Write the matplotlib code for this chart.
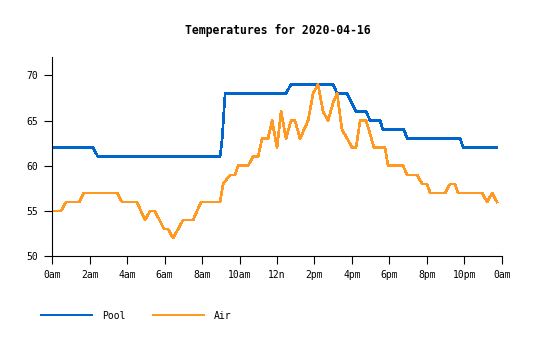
import matplotlib
matplotlib.use("Agg")
import matplotlib.pyplot as plt
from matplotlib.lines import Line2D

# hours after midnight and temperature (F)
pool_h = [0, 2.17, 2.44, 8.96, 9.07, 9.23, 12.48, 12.75, 15.0, 15.21, 15.74,
          16.22, 16.76, 16.97, 17.5, 17.66, 18.78, 18.95, 21.78, 21.94, 23.75]
pool_t = [62, 62, 61, 61, 63, 68, 68, 69, 69, 68, 68,
          66, 66, 65, 65, 64, 64, 63, 63, 62, 62]

air_h = [0, 0.46, 0.73, 1.43, 1.69, 3.46, 3.72, 4.52, 4.95, 5.22, 5.48,
         5.97, 6.18, 6.45, 6.98, 7.52, 7.94, 8.96, 9.12, 9.5, 9.76, 9.92,
         10.45, 10.72, 10.99, 11.2, 11.52, 11.74, 12.0, 12.22, 12.48, 12.75,
         12.96, 13.23, 13.66, 13.93, 14.19, 14.46, 14.73, 15.0, 15.21, 15.47,
         15.75, 16.01, 16.22, 16.44, 16.76, 17.18, 17.77, 17.93, 18.73, 18.95,
         19.48, 19.75, 20.01, 20.18, 20.98, 21.24, 21.51, 21.67, 22.95, 23.22,
         23.49, 23.75]
air_t = [55, 55, 56, 56, 57, 57, 56, 56, 54, 55, 55,
         53, 53, 52, 54, 54, 56, 56, 58, 59, 59, 60,
         60, 61, 61, 63, 63, 65, 62, 66, 63, 65,
         65, 63, 65, 68, 69, 66, 65, 67, 68, 64,
         63, 62, 62, 65, 65, 62, 62, 60, 60, 59,
         59, 58, 58, 57, 57, 58, 58, 57, 57, 56,
         57, 56]

tick_hours = list(range(0, 25, 2))
tick_labels = ["0am", "2am", "4am", "6am", "8am", "10am", "12n",
               "2pm", "4pm", "6pm", "8pm", "10pm", "0am"]
y_ticks = [50, 55, 60, 65, 70]

series = [("Pool", "#0066cc"), ("Air", "#ff9922")]

plt.rcParams['font.family'] = 'DejaVu Sans Mono'

W, H = 535, 340
LW = 1.2
fig = plt.figure(figsize=(W/100, H/100), dpi=100)
ax = fig.add_axes([52.3/W, 1-256.3/H, (501.7-52.3)/W, (256.3-57.2)/H])

ax.plot(pool_h, pool_t, color=series[0][1], lw=LW, antialiased=False)
ax.plot(air_h, air_t, color=series[1][1], lw=LW, antialiased=False)

ax.set_xlim(0, 24)
ax.set_ylim(50, 72)
ax.set_xticks(tick_hours)
ax.set_xticklabels(tick_labels)
ax.set_yticks(y_ticks)
ax.tick_params(length=6, width=0.8, labelsize=7, pad=4, colors='black')
for s in ['top', 'right']:
    ax.spines[s].set_visible(False)
for s in ['left', 'bottom']:
    ax.spines[s].set_linewidth(0.8)

fig.text(278/W, 1-30.7/H, 'Temperatures for 2020-04-16', ha='center', va='center',
         fontsize=8.3, fontweight='bold')

# legend drawn by hand below the axes
ly = 1 - 315/H
for (name, col), x0 in zip(series, [41, 153]):
    fig.add_artist(Line2D([x0/W, (x0+51)/W], [ly, ly], color=col, lw=LW,
                          antialiased=False, transform=fig.transFigure))
    fig.text((x0+61)/W, ly - 1/H, name, ha='left', va='center', fontsize=7)

fig.savefig('out.png', dpi=100)
